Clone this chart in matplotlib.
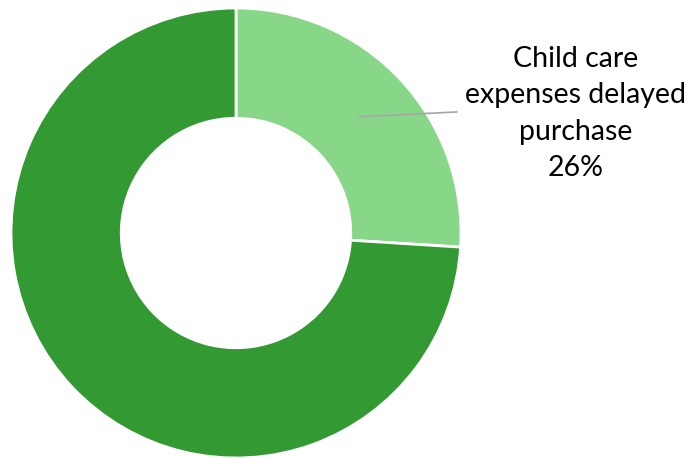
import numpy as np
import matplotlib.pyplot as plt

labels = ["Child care\nexpenses delayed\npurchase", ""]
shares = [26, 74]
colors = ["#88d688", "#339933"]

plt.rcParams['font.family'] = ['Lato', 'DejaVu Sans']

fig = plt.figure(figsize=(6.96, 4.58), dpi=100)
ax = fig.add_axes([11 / 696, 0, 450 / 696, 450 / 458])

ring = 0.49
wedges, _ = ax.pie(shares, colors=colors, startangle=90, counterclock=False,
                   radius=1, wedgeprops=dict(width=ring, edgecolor='white', linewidth=2))
# pie() widens the limits, pull them back to the ring itself
ax.set_xlim(-1, 1)
ax.set_ylim(-1, 1)
ax.set_aspect('equal')
ax.axis('off')

# leader line from the middle of the labelled wedge out to its label
w = wedges[0]
mid = np.deg2rad((w.theta1 + w.theta2) / 2)
r_mid = 1 - ring / 2
x0, y0 = r_mid * np.cos(mid), r_mid * np.sin(mid)
ax.plot([x0, 0.982], [y0, 0.538], color='#a6a6a6', lw=1.2, clip_on=False)
ax.text(1.511, 0.53, f"{labels[0]}\n{shares[0]}%", ha='center', va='center',
        fontsize=20.5, color='black', linespacing=1.5, clip_on=False)

fig.savefig("out.png", dpi=100)
